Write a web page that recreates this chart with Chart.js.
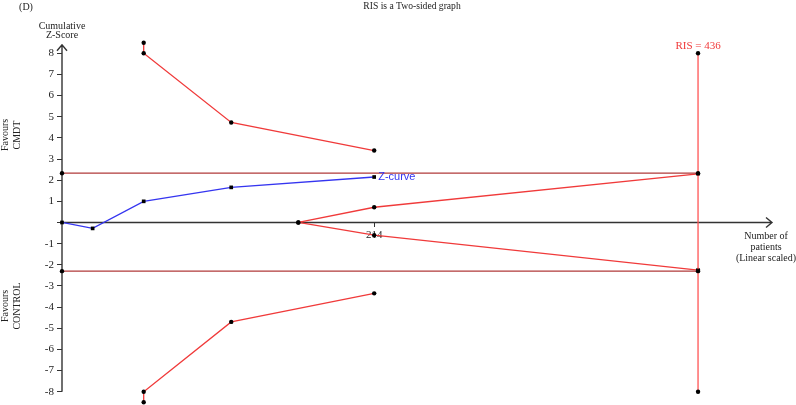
<!DOCTYPE html>
<html>
<head>
<meta charset="utf-8">
<script src="https://cdn.jsdelivr.net/npm/chart.js@4"></script>
<style>
  html, body { margin: 0; padding: 0; background: #fff; }
  #wrap { width: 796px; height: 405px; position: relative; }
</style>
</head>
<body>
<div id="wrap"><canvas id="tsa"></canvas></div>
<script>
// Cumulative Z-curve (patients vs z)
const zPatients = [0, 21, 56, 116, 214];
const zValues = [0, -0.28, 1.0, 1.66, 2.15];

// Monitoring boundaries
const boundPatients = [56, 56, 116, 214];
const upperBound = [8.5, 8.0, 4.73, 3.4];
const lowerBound = [-8.5, -8.0, -4.7, -3.35];

// Futility wedge
const futilityPatients = [162, 214, 436];
const futilityUpper = [0, 0.72, 2.3];
const futilityLower = [0, -0.6, -2.25];

// Conventional boundaries and required information size
const convUpper = 2.33;
const convLower = -2.3;
const ris = 436;
const risZ = [8, -8];

const yTicks = [-8, -7, -6, -5, -4, -3, -2, -1, 0, 1, 2, 3, 4, 5, 6, 7, 8];
const xTicks = [214];

const pts = (xs, ys) => xs.map((x, i) => ({ x: x, y: ys[i] }));

const RED = '#f03a3a';
const DARKRED = '#b03a3a';
const BLUE = '#3535f0';
const AXIS = '#333';
const SERIF = '"Liberation Serif", "DejaVu Serif", serif';

function lineSet(data, color, pointStyle, radius) {
  return {
    data: data,
    showLine: true,
    clip: false,
    borderColor: color,
    borderWidth: 1.3,
    pointStyle: pointStyle || 'circle',
    pointRadius: radius === undefined ? 2.2 : radius,
    pointBackgroundColor: '#000',
    pointBorderColor: '#000',
    pointBorderWidth: 0
  };
}

// no extra room for edge labels, the chart area is set by layout padding
function noPadding(scale) {
  scale.paddingTop = 0;
  scale.paddingBottom = 0;
  scale.paddingLeft = 0;
  scale.paddingRight = 0;
}

// Axes with arrows plus free text labels
const decorations = {
  id: 'decorations',
  beforeDatasetsDraw(chart) {
    const { ctx, scales: { x, y }, chartArea } = chart;
    const x0 = x.getPixelForValue(0);
    const y0 = y.getPixelForValue(0);
    const yTop = y.getPixelForValue(8.4);
    const yBot = y.getPixelForValue(-8);
    const xEnd = chartArea.right;
    ctx.save();
    ctx.strokeStyle = AXIS;
    ctx.lineWidth = 1.4;
    ctx.beginPath();
    ctx.moveTo(x0, yBot); ctx.lineTo(x0, yTop);
    ctx.moveTo(x0 - 5, yTop + 6); ctx.lineTo(x0, yTop); ctx.lineTo(x0 + 5, yTop + 6);
    ctx.moveTo(x0, y0); ctx.lineTo(xEnd, y0);
    ctx.moveTo(xEnd - 6, y0 - 5); ctx.lineTo(xEnd, y0); ctx.lineTo(xEnd - 6, y0 + 5);
    ctx.stroke();
    ctx.restore();
  },
  afterDraw(chart) {
    const { ctx, scales: { x, y } } = chart;
    ctx.save();
    ctx.fillStyle = '#222';
    ctx.textAlign = 'center';
    ctx.textBaseline = 'middle';
    ctx.font = '9.6px ' + SERIF;
    ctx.fillText('RIS is a Two-sided graph', 412, 6);
    ctx.font = '10px ' + SERIF;
    ctx.fillText('(D)', 26, 7);
    ctx.fillText('Cumulative', 62, 26);
    ctx.fillText('Z-Score', 62, 35);

    const xl = 766;
    ctx.fillText('Number of', xl, 236);
    ctx.fillText('patients', xl, 247);
    ctx.fillText('(Linear scaled)', xl, 258);

    // rotated side labels
    const side = (l1, l2, cy) => {
      ctx.save();
      ctx.translate(11, cy);
      ctx.rotate(-Math.PI / 2);
      ctx.fillText(l1, 0, -6);
      ctx.fillText(l2, 0, 6);
      ctx.restore();
    };
    side('Favours', 'CMDT', 135);
    side('Favours', 'CONTROL', 306);

    ctx.fillStyle = RED;
    ctx.font = '11px ' + SERIF;
    ctx.fillText('RIS = ' + ris, x.getPixelForValue(ris), y.getPixelForValue(8) - 7);

    ctx.fillStyle = BLUE;
    ctx.textAlign = 'left';
    ctx.font = '11px "Liberation Sans", Arial, sans-serif';
    const last = zPatients.length - 1;
    ctx.fillText('Z-curve', x.getPixelForValue(zPatients[last]) + 4, y.getPixelForValue(zValues[last]));
    ctx.restore();
  }
};

new Chart(document.getElementById('tsa'), {
  type: 'scatter',
  data: {
    datasets: [
      lineSet(pts([0, ris], [convUpper, convUpper]), DARKRED),
      lineSet(pts([0, ris], [convLower, convLower]), DARKRED),
      lineSet(pts([ris, ris], risZ), '#ff5555'),
      lineSet(pts(boundPatients, upperBound), RED),
      lineSet(pts(boundPatients, lowerBound), RED),
      lineSet(pts(futilityPatients, futilityUpper), RED),
      lineSet(pts(futilityPatients, futilityLower), RED),
      lineSet(pts(zPatients, zValues), BLUE, 'rect', 2.6)
    ]
  },
  options: {
    responsive: true,
    maintainAspectRatio: false,
    animation: false,
    layout: { padding: { left: 0, right: 24, top: 41, bottom: 2 } },
    plugins: {
      legend: { display: false },
      tooltip: { enabled: false }
    },
    scales: {
      x: {
        type: 'linear',
        min: 0,
        max: 486.7,
        position: { y: 0 },
        afterFit: (scale) => { scale.height = 0; noPadding(scale); },
        afterBuildTicks: (scale) => { scale.ticks = xTicks.map(v => ({ value: v })); },
        border: { display: false },
        grid: { drawOnChartArea: false, drawTicks: true, tickLength: 5, color: AXIS },
        ticks: { color: '#222', padding: 1, maxRotation: 0, font: { family: SERIF, size: 11 } }
      },
      y: {
        type: 'linear',
        min: -8.44,
        max: 8.58,
        position: 'left',
        afterFit: (scale) => { scale.width = 62; noPadding(scale); },
        afterBuildTicks: (scale) => { scale.ticks = yTicks.map(v => ({ value: v })); },
        border: { display: false },
        grid: { drawOnChartArea: false, drawTicks: true, tickLength: 5, color: AXIS },
        ticks: {
          color: '#222',
          padding: 3,
          font: { family: SERIF, size: 11 },
          callback: (v) => (v === 0 ? '' : v)
        }
      }
    }
  },
  plugins: [decorations]
});
</script>
</body>
</html>
